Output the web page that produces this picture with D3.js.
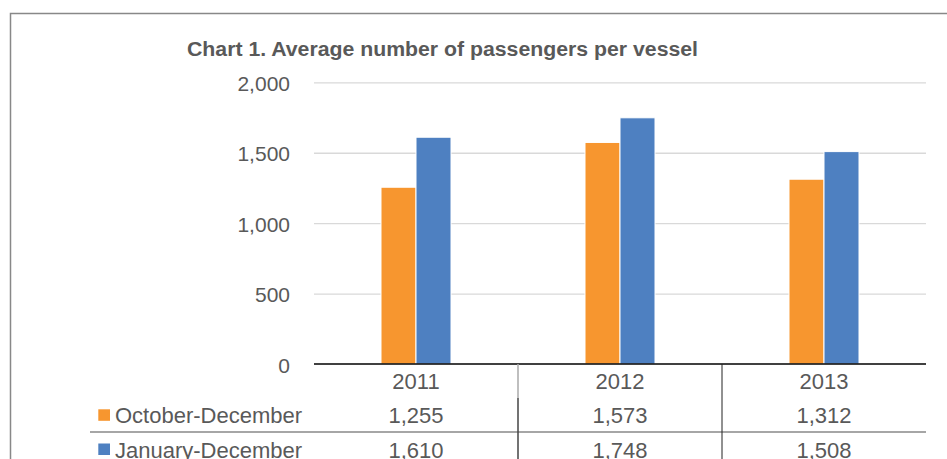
<!DOCTYPE html>
<html>
<head>
<meta charset="utf-8">
<script src="https://cdn.jsdelivr.net/npm/d3@7"></script>
<style>
  body { margin: 0; background: #fff; }
  text { font-family: "Liberation Sans", Arial, sans-serif; fill: #595959; }
</style>
</head>
<body>
<svg id="chart"></svg>
<script>
const categories = ['2011', '2012', '2013']
const seriesNames = ['October-December', 'January-December']
const octDec = [1255, 1573, 1312]
const janDec = [1610, 1748, 1508]
const yTicks = [0, 500, 1000, 1500, 2000]
const colors = ['#F7962F', '#4E80C1']

const width = 947
const height = 459
const svg = d3.select('#chart')
    .attr('width', width)
    .attr('height', height)

// frame around the chart (runs past the window on the right and bottom)
    svg.append('rect')
        .attr('x', 10.5).attr('y', 13.5)
        .attr('width', 1000).attr('height', 600)
        .attr('fill', 'none')
        .attr('stroke', '#888')
        .attr('stroke-width', 1.5)

// title
    svg.append('text')
        .attr('x', 187).attr('y', 56)
        .style('font-size', '20px')
        .style('font-weight', 'bold')
        .attr('textLength', 511)
        .attr('lengthAdjust', 'spacingAndGlyphs')
        .text('Chart 1. Average number of passengers per vessel')

// scales
    const plotLeft = 314, plotRight = 926, plotTop = 82.3, plotBottom = 364
    const xScale = d3.scaleBand()
        .domain(categories)
        .range([plotLeft, plotRight])
    const xInner = d3.scaleBand()
        .domain(seriesNames)
        .range([xScale.bandwidth() / 2 - 35, xScale.bandwidth() / 2 + 35])
    const yScale = d3.scaleLinear()
        .domain([0, 2000])
        .range([plotBottom, plotTop])

// grid lines + y labels
    const yAxisGrid = d3.axisRight(yScale)
        .tickValues(yTicks.slice(1))
        .tickSize(plotRight - plotLeft)
        .tickFormat('')
    svg.append('g')
        .attr('transform', `translate(${plotLeft},0)`)
        .call(yAxisGrid)
        .call(g => g.select('.domain').remove())
        .selectAll('line')
            .attr('stroke', '#D9D9D9')
            .attr('stroke-width', 1.3)

    const yAxis = d3.axisLeft(yScale)
        .tickValues(yTicks)
        .tickSize(0)
        .tickPadding(0)
        .tickFormat(d3.format(','))
    svg.append('g')
        .attr('transform', 'translate(290,1.5)')
        .call(yAxis)
        .call(g => g.select('.domain').remove())
        .selectAll('text')
            .style('font-size', '21px')
            .attr('fill', '#595959')
            .style('font-family', '"Liberation Sans", Arial, sans-serif')

// bars
    const rows = categories.map((c, i) => ({cat: c, values: [octDec[i], janDec[i]]}))
    const groups = svg.selectAll('.grp')
        .data(rows)
        .enter()
        .append('g')
            .attr('transform', d => `translate(${xScale(d.cat)},0)`)
    groups.selectAll('rect')
        .data(d => d.values.map((v, j) => ({name: seriesNames[j], value: v, j})))
        .enter()
        .append('rect')
            .attr('x', d => xInner(d.name))
            .attr('y', d => yScale(d.value))
            .attr('width', xInner.bandwidth())
            .attr('height', d => plotBottom - yScale(d.value))
            .attr('fill', d => colors[d.j])
            .attr('stroke', '#fff')
            .attr('stroke-width', 1)

// baseline axis
    svg.append('line')
        .attr('x1', plotLeft).attr('x2', plotRight)
        .attr('y1', plotBottom).attr('y2', plotBottom)
        .attr('stroke', '#000').attr('stroke-width', 1.5)

// data table under the chart
    const rowY = [388.5, 423.3, 457.5]
    svg.selectAll('.cat')
        .data(categories)
        .enter()
        .append('text')
            .attr('x', d => xScale(d) + xScale.bandwidth() / 2)
            .attr('y', rowY[0])
            .attr('text-anchor', 'middle')
            .style('font-size', '22px')
            .text(d => d)

    const series = [octDec, janDec]
    series.forEach((vals, j) => {
        svg.append('rect')
            .attr('x', 98.3).attr('y', rowY[j + 1] - 14)
            .attr('width', 11.7).attr('height', 11.5)
            .attr('fill', colors[j])
        svg.append('text')
            .attr('x', 115).attr('y', rowY[j + 1])
            .style('font-size', '22px')
            .text(seriesNames[j])
        svg.selectAll('.v' + j)
            .data(vals)
            .enter()
            .append('text')
                .attr('x', (d, i) => xScale(categories[i]) + xScale.bandwidth() / 2)
                .attr('y', rowY[j + 1])
                .attr('text-anchor', 'middle')
                .style('font-size', '22px')
                .text(d => d3.format(',')(d))
    })

// table rules
    svg.append('line')
        .attr('x1', 90).attr('x2', plotRight)
        .attr('y1', 432).attr('y2', 432)
        .attr('stroke', '#888').attr('stroke-width', 1.5)
    const sep1 = xScale(categories[1]), sep2 = xScale(categories[2])
    svg.append('line')
        .attr('x1', sep1).attr('x2', sep1)
        .attr('y1', plotBottom).attr('y2', 398)
        .attr('stroke', '#AAA').attr('stroke-width', 1.5)
    svg.append('line')
        .attr('x1', sep1).attr('x2', sep1)
        .attr('y1', 398).attr('y2', height)
        .attr('stroke', '#444').attr('stroke-width', 1.5)
    svg.append('line')
        .attr('x1', sep2).attr('x2', sep2)
        .attr('y1', plotBottom).attr('y2', height)
        .attr('stroke', '#222').attr('stroke-width', 1)
</script>
</body>
</html>
